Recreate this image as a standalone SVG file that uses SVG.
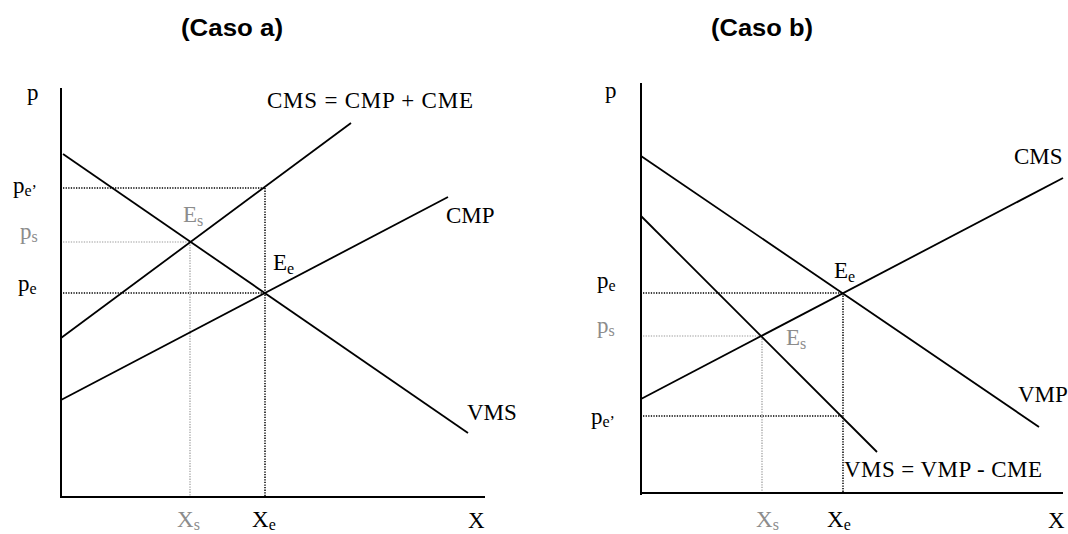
<svg xmlns="http://www.w3.org/2000/svg" width="1068" height="534" viewBox="0 0 1068 534">
<style>
.title{font-family:"Liberation Sans",Arial,sans-serif;font-weight:bold;font-size:24px;fill:#000}
.lbl{font-family:"Liberation Serif","Times New Roman",serif;font-size:23px;fill:#000}
.gray{fill:#8c8c8c}
.sub{font-size:16px}
.axis{stroke:#000;stroke-width:2;fill:none}
.curve{stroke:#000;stroke-width:1.8;fill:none}
.dot{stroke:#000;stroke-width:1.5;stroke-dasharray:1.3 1.3;fill:none}
.gdot{stroke:#999;stroke-width:1.2;stroke-dasharray:1.3 1.3;fill:none}
</style>
<rect width="1068" height="534" fill="#fff"/>
<g id="titles">
<text class="title" x="181" y="36" textLength="102" lengthAdjust="spacingAndGlyphs">(Caso a)</text>
<text class="title" x="711" y="36" textLength="102" lengthAdjust="spacingAndGlyphs">(Caso b)</text>
</g>
<g id="connectors">
<!-- Case a -->
<line class="dot" x1="63" y1="188" x2="265" y2="188"/>
<line class="dot" x1="265" y1="188" x2="265" y2="496"/>
<line class="dot" x1="63" y1="293" x2="265" y2="293"/>
<line class="gdot" x1="63" y1="242" x2="190" y2="242"/>
<line class="gdot" x1="190" y1="242" x2="190" y2="496"/>
<line class="curve" x1="63" y1="154" x2="468" y2="433"/>
<line class="curve" x1="61" y1="338" x2="351" y2="123"/>
<line class="curve" x1="61" y1="400" x2="448" y2="197"/>
<line class="axis" x1="61" y1="88" x2="61" y2="498"/>
<line class="axis" x1="60" y1="497" x2="485" y2="497"/>
<!-- Case b -->
<line class="dot" x1="643" y1="293" x2="843" y2="293"/>
<line class="dot" x1="843" y1="293" x2="843" y2="492"/>
<line class="dot" x1="643" y1="416" x2="843" y2="416"/>
<line class="gdot" x1="643" y1="336" x2="762" y2="336"/>
<line class="gdot" x1="762" y1="336" x2="762" y2="492"/>
<line class="curve" x1="641" y1="156" x2="1039" y2="427"/>
<line class="curve" x1="641" y1="399" x2="1063" y2="178"/>
<line class="curve" x1="641" y1="216" x2="877" y2="452"/>
<line class="axis" x1="641" y1="83" x2="641" y2="495"/>
<line class="axis" x1="640" y1="493" x2="1063" y2="493"/>
</g>
<g id="case-a-labels">
<text class="lbl" x="27" y="100">p</text>
<text class="lbl" x="13" y="193">p<tspan class="sub" dy="3">e’</tspan></text>
<text class="lbl gray" x="20" y="239">p<tspan class="sub" dy="3">s</tspan></text>
<text class="lbl" x="18" y="291">p<tspan class="sub" dy="3">e</tspan></text>
<text class="lbl" x="267" y="108" textLength="206" lengthAdjust="spacing">CMS = CMP + CME</text>
<text class="lbl" x="446" y="223">CMP</text>
<text class="lbl" x="467" y="420">VMS</text>
<text class="lbl gray" x="183" y="222">E<tspan class="sub" dy="4">s</tspan></text>
<text class="lbl" x="273" y="270">E<tspan class="sub" dy="4">e</tspan></text>
<text class="lbl gray" x="177" y="527">X<tspan class="sub" dy="3">s</tspan></text>
<text class="lbl" x="252" y="527">X<tspan class="sub" dy="3">e</tspan></text>
<text class="lbl" x="468" y="528">X</text>
</g>
<g id="case-b-labels">
<text class="lbl" x="605" y="98">p</text>
<text class="lbl" x="597" y="288">p<tspan class="sub" dy="3">e</tspan></text>
<text class="lbl gray" x="597" y="333">p<tspan class="sub" dy="3">s</tspan></text>
<text class="lbl" x="591" y="424">p<tspan class="sub" dy="3">e’</tspan></text>
<text class="lbl" x="1014" y="164">CMS</text>
<text class="lbl" x="1018" y="402">VMP</text>
<text class="lbl" x="844" y="477" textLength="198" lengthAdjust="spacing">VMS = VMP - CME</text>
<text class="lbl gray" x="786" y="345">E<tspan class="sub" dy="4">s</tspan></text>
<text class="lbl" x="834" y="278">E<tspan class="sub" dy="4">e</tspan></text>
<text class="lbl gray" x="756" y="527">X<tspan class="sub" dy="3">s</tspan></text>
<text class="lbl" x="827" y="527">X<tspan class="sub" dy="3">e</tspan></text>
<text class="lbl" x="1048" y="528">X</text>
</g>
</svg>
